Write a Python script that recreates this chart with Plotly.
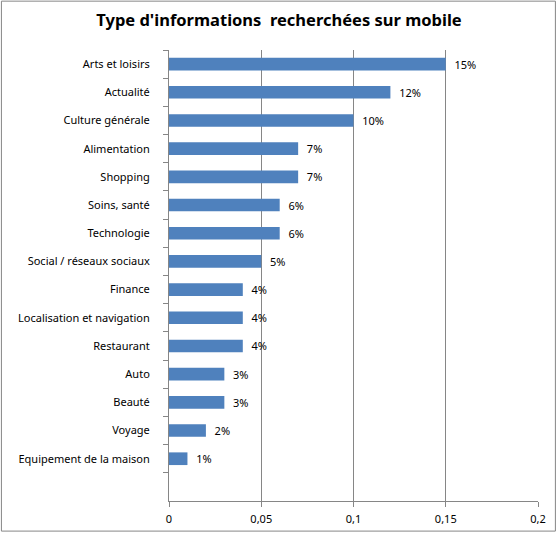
import plotly.graph_objects as go

categories = ["Arts et loisirs", "Actualité", "Culture générale", "Alimentation", "Shopping",
              "Soins, santé", "Technologie", "Social / réseaux sociaux", "Finance",
              "Localisation et navigation", "Restaurant", "Auto", "Beauté", "Voyage",
              "Equipement de la maison"]
values = [0.15, 0.12, 0.10, 0.07, 0.07, 0.06, 0.06, 0.05, 0.04, 0.04, 0.04, 0.03, 0.03, 0.02, 0.01]
x_ticks = [0, 0.05, 0.1, 0.15, 0.2]
x_labels = ["0", "0,05", "0,1", "0,15", "0,2"]

W, H = 558, 538
L, R, T, B = 169, 18, 50, 31
pw, ph = W - L - R, H - T - B
axis_col = "#868686"

fig = go.Figure(go.Bar(
    x=values, y=categories, orientation="h",
    marker=dict(color="#4F81BD", line=dict(width=0)),
    text=["  {:.0%}".format(v) for v in values],
    textposition="outside", cliponaxis=False, constraintext="none",
    textfont=dict(size=11, color="#000000"),
))

fig.update_layout(
    width=W, height=H,
    margin=dict(l=L, r=R, t=T, b=B),
    paper_bgcolor="white", plot_bgcolor="white",
    font=dict(family="Noto Sans", size=11, color="#000000"),
    bargap=0.55, showlegend=False,
    title=dict(text="<b>Type d'informations  recherchées sur mobile</b>",
               x=0.5, xanchor="center", y=1 - 20 / H, yanchor="middle",
               font=dict(size=16.5, family="Noto Sans")),
    shapes=[dict(type="rect", xref="paper", yref="paper",
                 x0=(0.5 - L) / pw, x1=(W - 0.5 - L) / pw,
                 y0=(H - B - (H - 0.5)) / ph, y1=(H - B - 0.5) / ph,
                 line=dict(color=axis_col, width=1), layer="below")],
)

fig.update_xaxes(range=[0, 0.2], tickvals=x_ticks, ticktext=x_labels,
                 showgrid=True, gridcolor=axis_col, gridwidth=1,
                 showline=True, linecolor=axis_col, ticks="outside",
                 ticklen=5, tickcolor=axis_col, zeroline=False,
                 ticklabelstandoff=3, tickfont=dict(size=11))
fig.update_yaxes(categoryorder="array", categoryarray=categories[::-1],
                 range=[-1.5, len(categories) - 0.5],
                 showline=True, linecolor=axis_col, ticks="outside",
                 tickson="boundaries", ticklen=5, tickcolor=axis_col,
                 ticklabelstandoff=16, showgrid=False, tickfont=dict(size=11))

# no page margin / scrollbars so the figure sits at the top-left corner
page_css = ("document.body.style.margin='0';"
            "document.body.style.overflow='hidden';"
            "document.documentElement.style.overflow='hidden';")
fig.write_html("out.html", config={"displayModeBar": False}, post_script=page_css)
